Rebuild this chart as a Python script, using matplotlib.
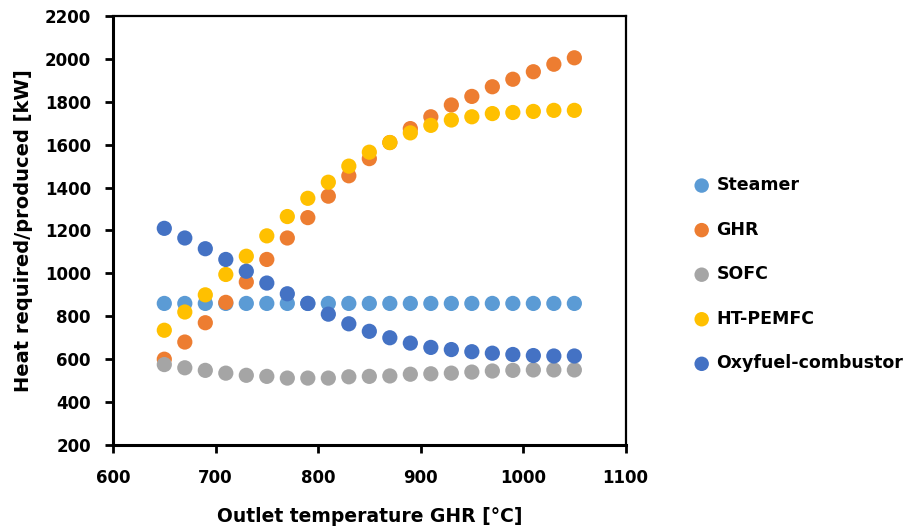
import matplotlib.pyplot as plt
import numpy as np

plt.rcParams['font.family'] = ['DejaVu Sans']
plt.rcParams['font.weight'] = 'bold'

temp = [650, 670, 690, 710, 730, 750, 770, 790, 810, 830, 850,
        870, 890, 910, 930, 950, 970, 990, 1010, 1030, 1050]

steamer = [860] * 21
ghr = [600, 680, 770, 865, 960, 1065, 1165, 1260, 1360, 1455, 1535,
       1610, 1675, 1730, 1785, 1825, 1870, 1905, 1940, 1975, 2005]
sofc = [575, 560, 548, 535, 525, 520, 512, 512, 512, 518, 520,
        522, 530, 532, 535, 540, 545, 548, 550, 550, 550]
htpem = [735, 820, 900, 995, 1080, 1175, 1265, 1350, 1425, 1500, 1565,
         1610, 1655, 1690, 1715, 1730, 1745, 1750, 1755, 1760, 1760]
oxyfuel = [1210, 1165, 1115, 1065, 1010, 955, 905, 860, 810, 765, 730,
           700, 675, 655, 645, 635, 628, 622, 617, 615, 615]

names = ['Steamer', 'GHR', 'SOFC', 'HT-PEMFC', 'Oxyfuel-combustor']
colors = ['#5B9BD5', '#ED7D31', '#A5A5A5', '#FFC000', '#4472C4']
series = [steamer, ghr, sofc, htpem, oxyfuel]

fig = plt.figure(figsize=(9.08, 5.32), dpi=100)
ax = fig.add_axes([0.1245, 0.1635, 0.5645, 0.8065])

for vals, c, n in zip(series, colors, names):
    ax.scatter(temp, vals, s=120, color=c, label=n, edgecolors='none', zorder=3)

ax.set_xlim(600, 1100)
ax.set_ylim(200, 2200)
ax.set_xticks(np.arange(600, 1101, 100))
ax.set_yticks(np.arange(200, 2201, 200))
ax.tick_params(direction='out', length=6, width=2, labelsize=12)
ax.tick_params(axis='y', pad=10)
ax.tick_params(axis='x', pad=11)
for s in ['left', 'bottom']:
    ax.spines[s].set_linewidth(2.2)
for s in ['top', 'right']:
    ax.spines[s].set_linewidth(1.6)

ax.set_xlabel('Outlet temperature GHR [°C]', fontsize=13.5, fontweight='bold', labelpad=15)
ax.set_ylabel('Heat required/produced [kW]', fontsize=14, fontweight='bold', labelpad=8)

fig.legend(loc='upper left', bbox_to_anchor=(0.746, 0.682), frameon=False,
           prop={'size': 12.5, 'weight': 'bold'}, labelspacing=1.53,
           handletextpad=-0.15, markerscale=0.95, borderaxespad=0)

fig.savefig('out.png', dpi=100)
